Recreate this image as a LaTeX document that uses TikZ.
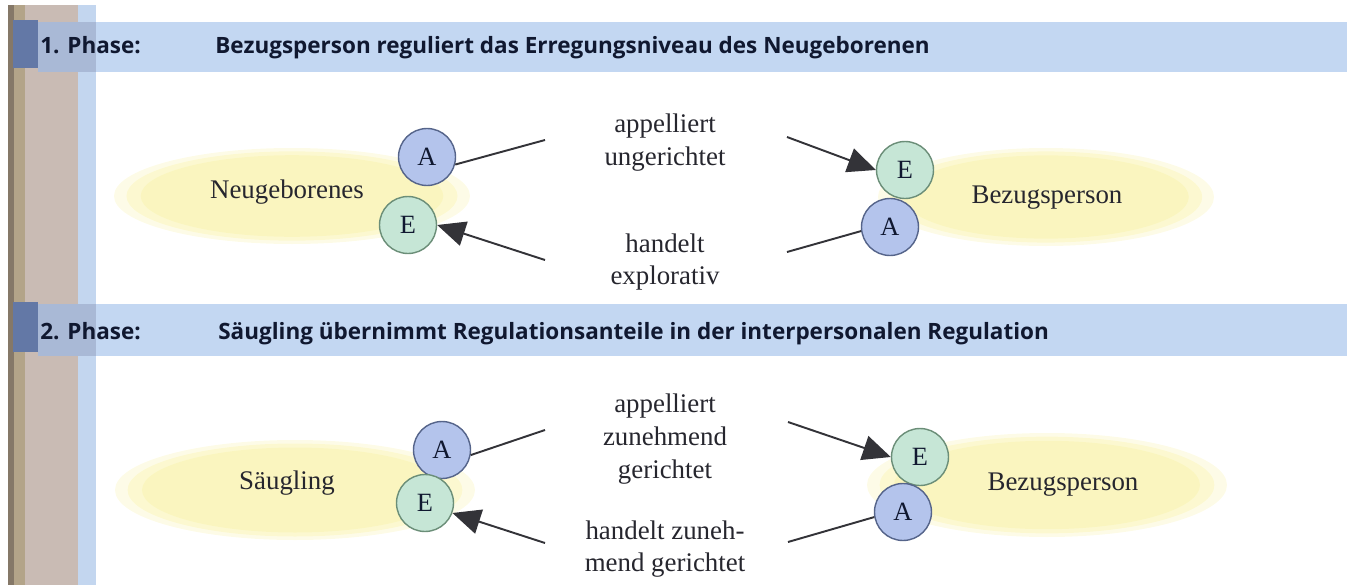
\documentclass[tikz,border=0pt]{standalone}
\usepackage{fontspec}
\setmainfont{Liberation Serif}
\newfontfamily\headfont{Open Sans}
\usetikzlibrary{arrows.meta}

\definecolor{stripdark}{HTML}{857868}
\definecolor{striptan}{HTML}{B3A489}
\definecolor{striptaupe}{HTML}{C9BBB4}
\definecolor{edgeblue}{HTML}{C3D6EF}
\definecolor{bandblue}{HTML}{C3D7F2}
\definecolor{bandmid}{HTML}{A9B9D6}
\definecolor{banddark}{HTML}{6378A6}
\definecolor{headtext}{HTML}{101830}
\definecolor{bodytext}{HTML}{26262E}
\definecolor{glowyellow}{HTML}{F9F3AE}
\definecolor{afill}{HTML}{B4C4EC}
\definecolor{aline}{HTML}{55648A}
\definecolor{efill}{HTML}{C6E6D6}
\definecolor{eline}{HTML}{6B8E78}
\definecolor{linegray}{HTML}{333338}

\tikzset{
	phasehead/.style={font=\headfont\bfseries\fontsize{12.8}{15}\selectfont, text=headtext, anchor=base west, inner sep=0pt},
	person/.style={font=\fontsize{15.3}{18.7}\selectfont, text=bodytext, inner sep=0pt},
	acttext/.style={person, align=center},
	anode/.style={circle, draw=aline, fill=afill, line width=0.8pt, minimum size=1.14cm, inner sep=0pt, font=\fontsize{15}{15}\selectfont, text=headtext},
	enode/.style={anode, draw=eline, fill=efill},
	feed/.style={draw=linegray, line width=1.1pt},
	act/.style={feed, -{Triangle[length=5.6mm, width=5mm]}},
}

\begin{document}
\begin{tikzpicture}[x=0.02cm, y=-0.02cm]
		\useasboundingbox (0,0) rectangle (1347,585);
		% page edge
		\fill[striptaupe] (25,5) rectangle (80,585);
		\fill[striptan] (14,5) rectangle (25,585);
		\fill[stripdark] (8,5) rectangle (14,585);
		\fill[edgeblue] (78,5) rectangle (96,585);
		% phase bands
		\foreach \t/\b in {22/72, 304/356}{
			\fill[bandblue] (38,\t) rectangle (1347,\b);
			\fill[bandmid] (38,\t) rectangle (96,\b);
			\fill[banddark] (13,\t-2) rectangle (38,\b-4);
		}
		\node[phasehead] (ph1) at (40,53) {1. Phase:};
		\node[phasehead] (ti1) at (215,53) {Bezugsperson reguliert das Erregungsniveau des Neugeborenen};
		\node[phasehead] (ph2) at (40,339) {2. Phase:};
		\node[phasehead] (ti2) at (218,339) {Säugling übernimmt Regulationsanteile in der interpersonalen Regulation};
		% glow behind the persons
		\foreach \cx/\cy/\rx/\ry in {292/196/178/48, 1046/197/168/49, 295/490/180/50, 1047/485/180/52}{
			\foreach \k/\o in {1/0.3, 0.93/0.4, 0.85/0.5}
				\fill[glowyellow, opacity=\o] (\cx,\cy) ellipse ({\rx*\k} and {\ry*\k});
		}
		% phase 1
		\node[person] (neu) at (287,192) {Neugeborenes};
		\node[person] (bez1) at (1047,198) {Bezugsperson};
		\node[anode] (a1) at (427,157) {A};
		\node[enode] (e1) at (408,225) {E};
		\node[enode] (e2) at (905,170) {E};
		\node[anode] (a2) at (890,227) {A};
		\node[acttext] (app1) at (665,143) {appelliert\\ungerichtet};
		\node[acttext] (han1) at (665,262) {handelt\\explorativ};
		\coordinate (a1end) at (545,140);
		\coordinate (e1start) at (545,260);
		\coordinate (e2start) at (787,137);
		\coordinate (a2start) at (787,252);
		\draw[feed] (a1.-15) -- (a1end);
		\draw[act] (e1start) -- (e1.0);
		\draw[act] (e2start) -- (e2.180);
		\draw[feed] (a2start) -- (a2.188);
		% phase 2
		\node[person] (sae) at (287,483) {Säugling};
		\node[person] (bez2) at (1063,485) {Bezugsperson};
		\node[anode] (a3) at (442,450) {A};
		\node[enode] (e3) at (425,503) {E};
		\node[enode] (e4) at (920,457) {E};
		\node[anode] (a4) at (903,512) {A};
		\node[acttext] (app2) at (665,439) {appelliert\\zunehmend\\gerichtet};
		\node[acttext] (han2) at (665,549) {handelt zuneh-\\mend gerichtet};
		\coordinate (a3end) at (545,430);
		\coordinate (e3start) at (545,543);
		\coordinate (e4start) at (788,422);
		\coordinate (a4start) at (788,542);
		\draw[feed] (a3.-10) -- (a3end);
		\draw[act] (e3start) -- (e3.-20);
		\draw[act] (e4start) -- (e4.180);
		\draw[feed] (a4start) -- (a4.190);
\end{tikzpicture}
\end{document}
